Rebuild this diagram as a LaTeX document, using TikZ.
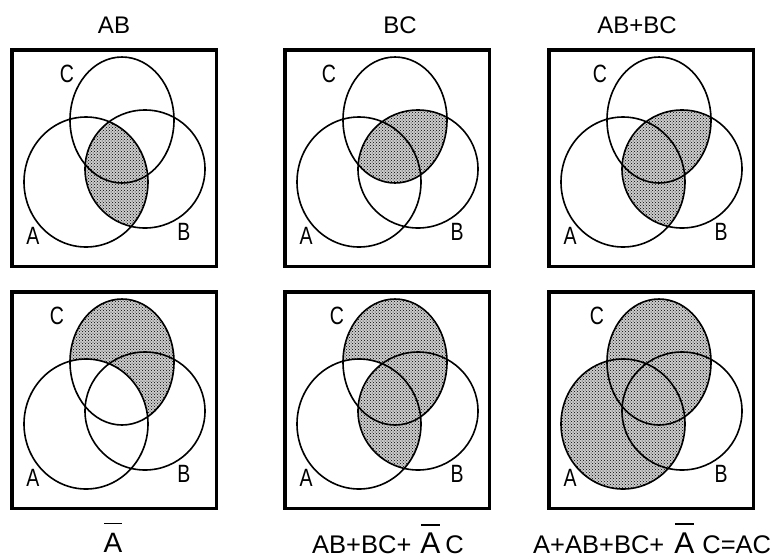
\documentclass[tikz,border=0pt]{standalone}
\usepackage{fontspec}
\usepackage{graphicx}
\setmainfont{Liberation Sans}
\usetikzlibrary{patterns}

% the three sets, in panel coordinates (1 unit = 1pt, y downwards)
\newcommand\ellA{(76,134) ellipse [x radius=62, y radius=65]}
\newcommand\ellB{(135,121) ellipse [x radius=60, y radius=59]}
\newcommand\ellC{(112,72) ellipse [x radius=52, y radius=63]}

% a letter with a bar above it: #1 gap under the bar, #2 the letter
\newcommand\barred[2]{\setbox0=\hbox{#2}\vbox{\offinterlineskip\hbox to \wd0{\hfil\vrule width 0.95\wd0 height 1.4pt\hfil}\kern #1\box0}}

% narrow letters naming the sets
\newcommand\narrow[1]{\scalebox{0.78}[1]{#1}}

% outlines, set letters and frame of one panel: #1 name prefix, #2 x of the C letter
\newcommand\vennframe[2]{%
  \draw[venn] \ellA;
  \draw[venn] \ellB;
  \draw[venn] \ellC;
  \node[setlabel] (#1C) at (#2,26) {\narrow{C}};
  \node[setlabel] (#1A) at (23,188) {\narrow{A}};
  \node[setlabel] (#1B) at (174,184) {\narrow{B}};
  \draw[frame] (1.75,1.75) rectangle (206.25,218.25);
}

\tikzset{
  venn/.style={draw=black, line width=1.6pt},
  shaded/.style={preaction={fill=black!20}, pattern=crosshatch dots, pattern color=black},
  frame/.style={draw=black, line width=3.5pt},
  setlabel/.style={font=\fontsize{25}{25}\selectfont, inner sep=0pt},
  caption/.style={font=\fontsize{24}{24}\selectfont, inner sep=0pt, anchor=base},
  formula/.style={font=\fontsize{25.5}{25.5}\selectfont, inner sep=0pt, anchor=base west},
}

\begin{document}
\begin{tikzpicture}[x=1pt, y=-1pt]
\useasboundingbox[fill=white] (0,0) rectangle (771,558);

% titles of the upper row
\node[caption] (t1) at (114,33) {AB};
\node[caption] (t2) at (400,33) {BC};
\node[caption] (t3) at (637,33) {AB+BC};

% AB
\begin{scope}[shift={(10,48)}]
  \begin{scope}\clip \ellA; \fill[shaded] \ellB; \end{scope}
  \vennframe{p1}{57}
\end{scope}

% BC
\begin{scope}[shift={(283,48)}]
  \begin{scope}\clip \ellB; \fill[shaded] \ellC; \end{scope}
  \vennframe{p2}{46}
\end{scope}

% AB+BC
\begin{scope}[shift={(547,48)}]
  \begin{scope}\clip \ellB; \fill[shaded] \ellA; \fill[shaded] \ellC; \end{scope}
  \vennframe{p3}{53}
\end{scope}

% not-A within C
\begin{scope}[shift={(10,290)}]
  \begin{scope}\clip \ellC; \fill[shaded] \ellC; \fill[white] \ellA; \end{scope}
  \vennframe{p4}{47}
\end{scope}

% AB+BC+(not A)C
\begin{scope}[shift={(283,290)}]
  \begin{scope}\clip \ellC; \fill[shaded] \ellC; \fill[white] \ellA; \end{scope}
  \begin{scope}\clip \ellA; \fill[shaded] \ellB; \end{scope}
  \vennframe{p5}{54}
\end{scope}

% A+AB+BC+(not A)C
\begin{scope}[shift={(547,290)}]
  \fill[shaded] \ellA;
  \fill[shaded] \ellC;
  \vennframe{p6}{50}
\end{scope}

% formulas of the lower row
\node[caption, font=\fontsize{28}{28}\selectfont] (f1) at (113,552) {\barred{8.5pt}{A}};
\node[formula] (f2) at (312,553) {AB+BC+\kern 9pt{\fontsize{30}{30}\selectfont\barred{6.5pt}{A}}\kern 5pt C};
\node[formula] (f3) at (533,553) {A+AB+BC+\kern 10pt{\fontsize{30}{30}\selectfont\barred{7.5pt}{A}}\kern 8pt C=AC};
\end{tikzpicture}
\end{document}
